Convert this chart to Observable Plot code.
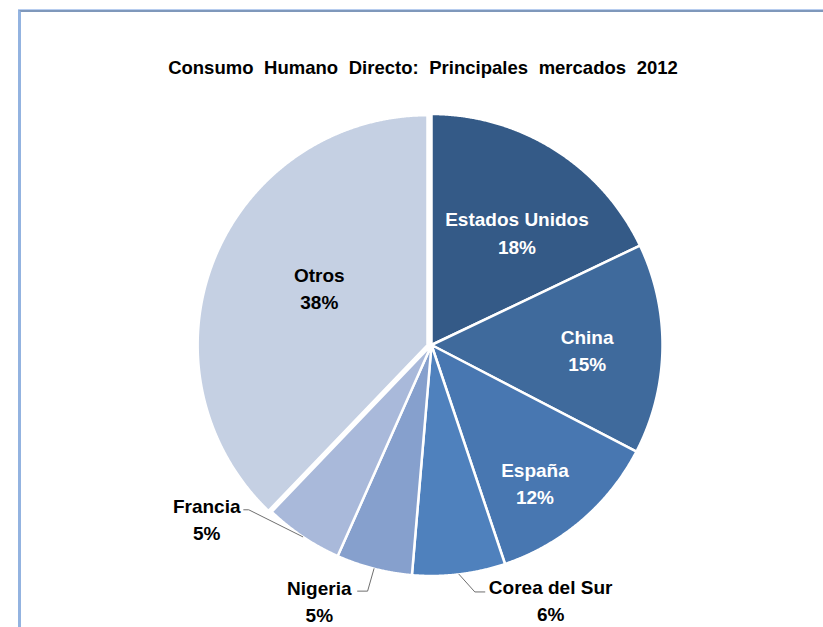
<!DOCTYPE html>
<html>
<head>
<meta charset="utf-8">
<script src="https://cdn.jsdelivr.net/npm/d3@7"></script>
<script src="https://cdn.jsdelivr.net/npm/@observablehq/plot@0.6"></script>
<style>
  html, body { margin: 0; padding: 0; background: #ffffff; }
  #wrap { position: relative; width: 823px; height: 627px; overflow: hidden; background: #ffffff; }
  #frame { position: absolute; left: 18px; top: 9px; width: 900px; height: 700px;
           border-top: 3px solid #7f98bb; border-left: 3px solid #93b3e0; box-sizing: border-box; }
  #frame::before { content: ""; position: absolute; left: -3px; top: -3px; width: 100%; height: 1px; background: #b7cdef; }
  #title { position: absolute; left: 0; top: 57px; width: 846px; text-align: center;
           font-family: "Liberation Sans", Arial, sans-serif; font-weight: bold; font-size: 18.5px;
           line-height: 22px; color: #000; word-spacing: 5.5px; }
  #chart { position: absolute; left: 0; top: 0; }
</style>
</head>
<body>
<div id="wrap">
  <div id="frame"></div>
  <div id="title">Consumo Humano Directo: Principales mercados 2012</div>
  <div id="chart"></div>
</div>
<script>
// ---- data ----
const names = ["Estados Unidos", "China", "España", "Corea del Sur", "Nigeria", "Francia", "Otros"];
const shares = [17.9, 14.7, 12.2, 6.5, 5.3, 5.5, 37.8];
const pctLabels = ["18%", "15%", "12%", "6%", "5%", "5%", "38%"];

// ---- styling / layout ----
const palette = ["#345a87", "#3f6a9c", "#4877b1", "#4f81bd", "#86a0cd", "#a9b9da", "#c5d0e3"];
const W = 823, H = 627, cx = 431, cy = 344.5, R = 231;
const FONT = "'Liberation Sans', Arial, sans-serif";
const u = px => px / R;   // pixels -> data units

// exploded slice
const explode = { "Otros": { dx: -4, dy: 0, scale: 0.995 } };
// inside labels: radial fraction and angular nudge (degrees)
const inside = {
  "Estados Unidos": { r: 0.617, da: 4.6, color: "white" },
  "China":          { r: 0.674, da: 0.3, color: "white" },
  "España":         { r: 0.742, da: 3.4, color: "white" },
  "Otros":          { r: 0.532, da: 6.4, color: "black" }
};
// outside labels: pixel offsets from the arc point (elbow, end, text centre)
const outside = {
  "Corea del Sur": { elbow: [15.8, 17.6], end: [25.8, 17.6], text: [91.6, 24.1] },
  "Nigeria":       { elbow: [-6.4, 22.4], end: [-16.4, 22.4], text: [-54.7, 31.2] },
  "Francia":       { elbow: [-54, -27], end: [-59, -27], text: [-96, -19] }
};

const data = names.map((name, i) => ({ name, share: shares[i], pct: pctLabels[i] }));
const arcs = d3.pie().sort(null).value(d => d.share)(data);

const slicePts = [];
const inLabels = [];
const outLabels = [];
const leaderPts = [];
arcs.forEach(a => {
  const name = a.data.name;
  const e = explode[name] || { dx: 0, dy: 0, scale: 1 };
  const ox = u(e.dx), oy = -u(e.dy), r = e.scale;
  slicePts.push({ name, x: ox, y: oy });
  const n = Math.max(2, Math.ceil((a.endAngle - a.startAngle) / 0.004));
  for (let k = 0; k <= n; k++) {
    const t = a.startAngle + (a.endAngle - a.startAngle) * k / n;
    slicePts.push({ name, x: ox + r * Math.sin(t), y: oy + r * Math.cos(t) });
  }
  const mid = (a.startAngle + a.endAngle) / 2;
  if (inside[name]) {
    const L = inside[name];
    const t = mid + L.da * Math.PI / 180;
    inLabels.push({ name, color: L.color, text: name + "\n" + a.data.pct,
      x: ox + L.r * Math.sin(t), y: oy + L.r * Math.cos(t) });
  } else if (outside[name]) {
    const L = outside[name];
    const px = Math.sin(mid), py = Math.cos(mid);
    leaderPts.push({ name, x: px, y: py });
    leaderPts.push({ name, x: px + u(L.elbow[0]), y: py - u(L.elbow[1]) });
    leaderPts.push({ name, x: px + u(L.end[0]), y: py - u(L.end[1]) });
    outLabels.push({ name, text: name + "\n" + a.data.pct,
      x: px + u(L.text[0]), y: py - u(L.text[1]) });
  }
});

const chart = Plot.plot({
  width: W, height: H,
  margin: 0,
  style: { background: "transparent", overflow: "visible" },
  x: { domain: [-1, 1], range: [cx - R, cx + R], axis: null },
  y: { domain: [-1, 1], range: [cy + R, cy - R], axis: null },
  color: { domain: names, range: palette },
  marks: [
    Plot.line(slicePts, { x: "x", y: "y", z: "name", fill: "name", stroke: "white",
      strokeWidth: 2.5, strokeLinejoin: "round", curve: "linear-closed" }),
    Plot.line(leaderPts, { x: "x", y: "y", z: "name", stroke: "#6f6f6f", strokeWidth: 1 }),
    Plot.text(inLabels.filter(d => d.color === "white"), { x: "x", y: "y", text: "text", fill: "white",
      fontSize: 19, fontWeight: "bold", lineHeight: 1.45, fontFamily: FONT }),
    Plot.text(inLabels.filter(d => d.color !== "white"), { x: "x", y: "y", text: "text", fill: "black",
      fontSize: 19, fontWeight: "bold", lineHeight: 1.45, fontFamily: FONT }),
    Plot.text(outLabels, { x: "x", y: "y", text: "text", fill: "black",
      fontSize: 19, fontWeight: "bold", lineHeight: 1.42, fontFamily: FONT })
  ]
});
document.getElementById("chart").appendChild(chart);
</script>
</body>
</html>
